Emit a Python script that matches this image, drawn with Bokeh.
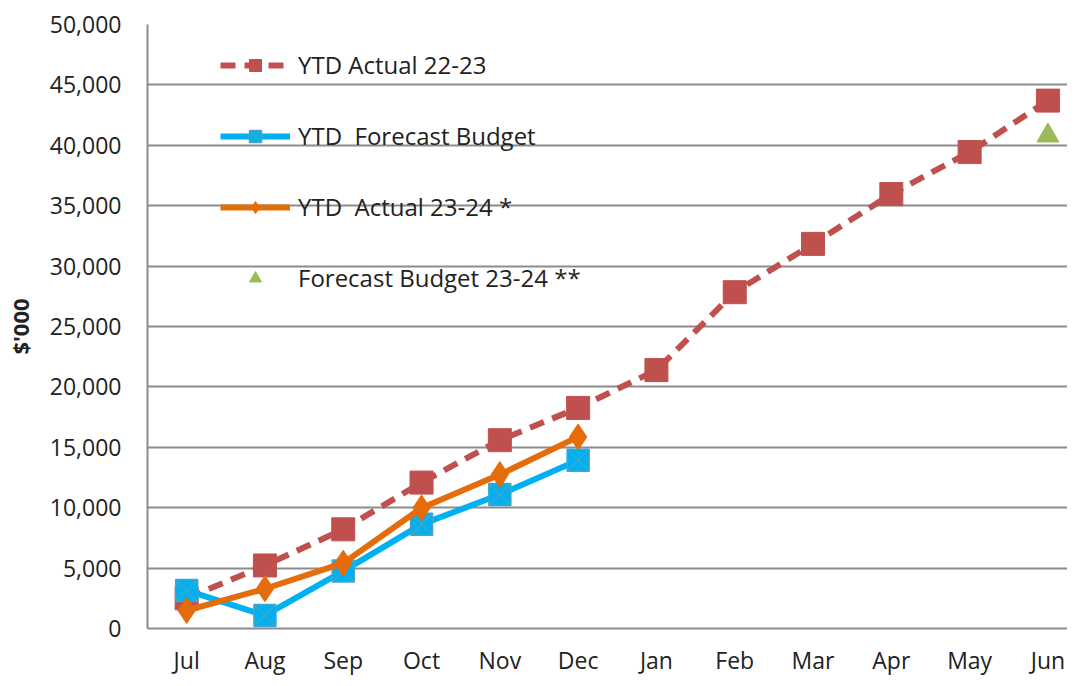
from bokeh.plotting import figure
from bokeh.models import Range1d, FixedTicker, NumeralTickFormatter, Legend, LegendItem
from bokeh.embed import file_html
from bokeh.resources import INLINE

months = ["Jul", "Aug", "Sep", "Oct", "Nov", "Dec", "Jan", "Feb", "Mar", "Apr", "May", "Jun"]
ytd_actual_2223 = [2500, 5220, 8210, 12080, 15590, 18260, 21390, 27840, 31840, 35960, 39440, 43700]
ytd_forecast_budget = [3150, 1080, 4750, 8620, 11090, 13930]
ytd_actual_2324 = [1490, 3290, 5410, 9980, 12740, 15860]
forecast_budget_2324_month = ["Jun"]
forecast_budget_2324 = [40800]
y_ticks = list(range(0, 50001, 5000))

FONT = "Open Sans"
GRID = "#8C8C8C"

def idx(ms):
    return [months.index(m) for m in ms]

x_all = idx(months)

p = figure(width=1067, height=678, output_backend="svg", toolbar_location=None,
           x_range=Range1d(-0.5, 11.25), y_range=Range1d(0, 50000),
           min_border_left=147, min_border_right=0, min_border_top=24, min_border_bottom=49)
p.outline_line_color = None
p.background_fill_color = "white"
p.border_fill_color = "white"

p.xgrid.grid_line_color = None
p.ygrid.grid_line_color = GRID
p.ygrid.grid_line_width = 2
p.ygrid.ticker = FixedTicker(ticks=y_ticks)

p.yaxis.ticker = FixedTicker(ticks=y_ticks)
p.yaxis.formatter = NumeralTickFormatter(format="0,0")
p.xaxis.ticker = FixedTicker(ticks=x_all)
p.xaxis.major_label_overrides = {i: m for i, m in enumerate(months)}

for ax in (p.xaxis[0], p.yaxis[0]):
    ax.axis_line_color = GRID
    ax.axis_line_width = 2
    ax.major_tick_line_color = None
    ax.minor_tick_line_color = None
    ax.major_label_text_font = FONT
    ax.major_label_text_font_size = "23px"
    ax.major_label_text_color = "#222222"

p.xaxis.major_label_standoff = 9
p.yaxis.major_label_standoff = 20
p.yaxis.axis_label = "$'000"
p.yaxis.axis_label_text_font = FONT
p.yaxis.axis_label_text_font_size = "22px"
p.yaxis.axis_label_text_font_style = "bold"
p.yaxis.axis_label_text_color = "#222222"
p.yaxis.axis_label_standoff = 12

RED = "#C0504D"
CYAN = "#00B0F0"
ORANGE = "#E46C0A"
GREEN = "#9BBB59"

r1l = p.line(x_all, ytd_actual_2223, line_color=RED, line_width=6, line_dash="15 9")
r1m = p.scatter(x_all, ytd_actual_2223, marker="square", size=23, fill_color=RED, line_color=RED)

x_f = x_all[:len(ytd_forecast_budget)]
r2l = p.line(x_f, ytd_forecast_budget, line_color=CYAN, line_width=6)
r2m = p.scatter(x_f, ytd_forecast_budget, marker="square_x", size=22, fill_color=CYAN,
                line_color="#3FA6CC", line_width=1.5)

x_a = x_all[:len(ytd_actual_2324)]
r3l = p.line(x_a, ytd_actual_2324, line_color=ORANGE, line_width=6)
r3m = p.scatter(x_a, ytd_actual_2324, marker="diamond", size=26, fill_color=ORANGE, line_color=ORANGE)

r4m = p.scatter(idx(forecast_budget_2324_month), forecast_budget_2324, marker="triangle", size=22,
                fill_color=GREEN, line_color=GREEN)

legend = Legend(items=[
    LegendItem(label="YTD Actual 22-23", renderers=[r1l, r1m]),
    LegendItem(label="YTD  Forecast Budget", renderers=[r2l, r2m]),
    LegendItem(label="YTD  Actual 23-24 *", renderers=[r3l, r3m]),
    LegendItem(label="Forecast Budget 23-24 **", renderers=[r4m]),
], location=(73, 334))
legend.margin = 0
legend.padding = 0
legend.spacing = 38
legend.glyph_width = 70
legend.glyph_height = 30
legend.label_height = 30
legend.label_standoff = 8
legend.label_text_font = FONT
legend.label_text_font_size = "24px"
legend.label_text_color = "#222222"
legend.background_fill_alpha = 0
legend.border_line_color = None
p.add_layout(legend, "center")

open("out.html", "w").write(file_html(p, INLINE))
